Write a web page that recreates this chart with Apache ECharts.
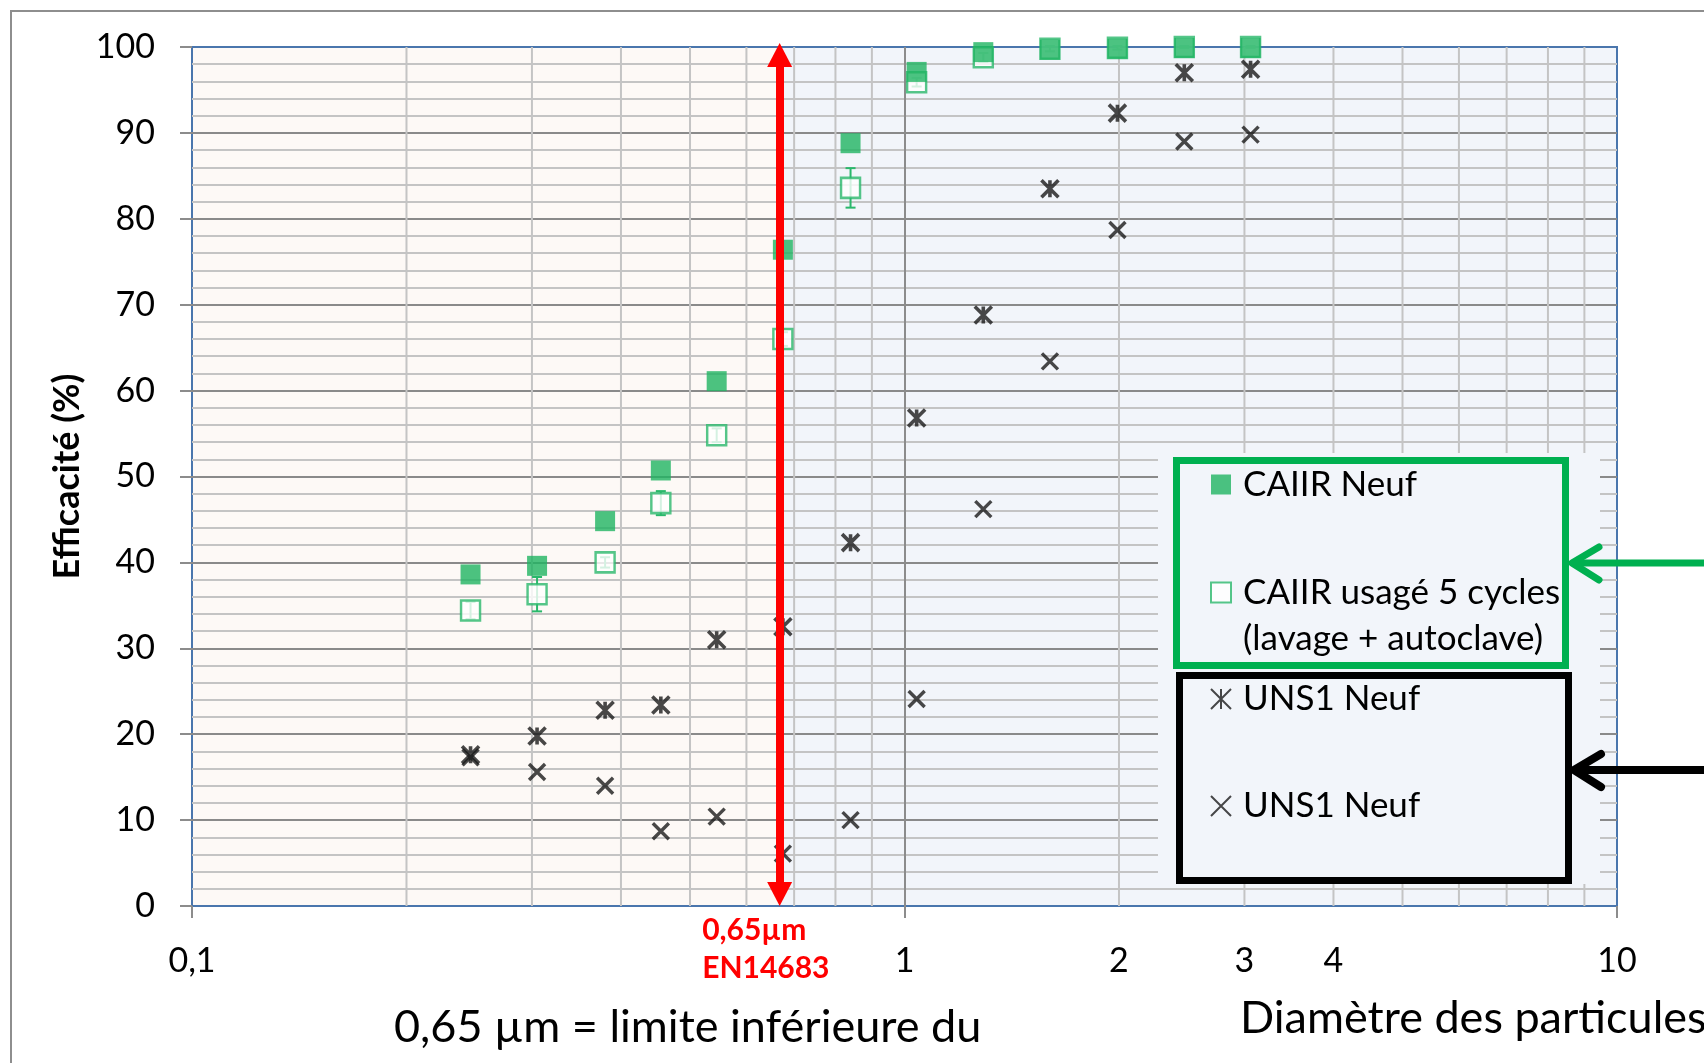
<!DOCTYPE html>
<html><head><meta charset="utf-8">
<script src="https://cdn.jsdelivr.net/npm/echarts@6/dist/echarts.min.js"></script>
<style>html,body{margin:0;padding:0;background:#fff}#c{width:1704px;height:1063px}</style>
</head><body><div id="c"></div>
<script>
// ---- data ----
const diameters   = [0.246, 0.305, 0.38, 0.455, 0.545, 0.675, 0.84, 1.04, 1.29, 1.6, 1.99, 2.47, 3.06];
const caiirNeuf   = [38.6, 39.6, 44.8, 50.7, 61.1, 76.4, 88.8, 97.1, 99.4, 99.7, 99.8, 99.9, 99.9];
const caiirUsage  = [34.4, 36.3, 40.0, 46.9, 54.8, 66.0, 83.6, 95.9, 98.8, 99.8, 99.9, 100, 100];
const caiirUsageErr = [1.0, 2.0, 0.6, 1.4, 0.8, 0.8, 2.3, 0.5, 0.5, 0.3, 0.2, 0.1, 0.1];
const uns1NeufA   = [17.6, 19.8, 22.8, 23.4, 31.0, 32.5, 42.3, 56.8, 68.8, 83.5, 92.3, 97.0, 97.4];
const uns1NeufB   = [17.3, 15.6, 14.0, 8.7, 10.4, 6.1, 10.0, 24.1, 46.2, 63.4, 78.7, 89.0, 89.8];
const seriesNames = ['CAIIR Neuf', 'CAIIR usagé 5 cycles\n(lavage + autoclave)', 'UNS1 Neuf (a)', 'UNS1 Neuf (b)'];
const xMinorGrid  = [0.2, 0.3, 0.4, 0.5, 0.6, 0.7, 0.8, 0.9, 2, 3, 4, 5, 6, 7, 8, 9];
const xExtraLabels = [2, 3, 4];
const limitX = 0.668;             // position of the EN14683 limit line
const limitArrowRange = [1.4, 99.07];
const limitLabel = '0,65µm\nEN14683';
const zones = [[0.1, limitX], [limitX, 10]];
const zoneColors = ['#fdf9f6', '#f2f5fa'];

const FONT = "Lato, 'Open Sans', sans-serif";
const green = '#1fb462', greenLine = '#2ab86b', dark = '#1a1a1a';
const asterisk = 'path://M0,0L10,10M10,0L0,10M5,0L5,10';
const cross = 'path://M0,0L10,10M10,0L0,10';

const pts = ys => diameters.map((d, i) => [d, ys[i]]);

const chart = echarts.init(document.getElementById('c'), null, {renderer: 'canvas'});
const option = {
  animation: false,
  textStyle: {fontFamily: FONT},
  grid: {left: 192, top: 47, right: 87, bottom: 157, show: true, backgroundColor: 'transparent', borderColor: '#4a76ad', borderWidth: 2},
  xAxis: {
    type: 'log', logBase: 10, min: 0.1, max: 10,
    axisLine: {show: false},
    axisTick: {show: true, length: 12, lineStyle: {color: '#8c8c8c', width: 2}},
    axisLabel: {color: '#000', fontSize: 34, margin: 38, fontFamily: FONT, formatter: v => String(v).replace('.', ',')},
    splitLine: {show: true, showMinLine: false, showMaxLine: false, lineStyle: {color: '#8c8c8c', width: 2}}
  },
  yAxis: {
    type: 'value', min: 0, max: 100, interval: 10,
    name: 'Efficacité (%)', nameLocation: 'middle', nameGap: 104,
    nameTextStyle: {color: '#000', fontSize: 36, fontWeight: 'bold', fontFamily: FONT},
    axisLine: {show: false},
    axisTick: {show: true, length: 12, lineStyle: {color: '#8c8c8c', width: 2}},
    axisLabel: {color: '#000', fontSize: 34, margin: 37, fontFamily: FONT},
    splitLine: {show: true, showMinLine: false, showMaxLine: false, lineStyle: {color: '#8a8a8a', width: 2}},
    minorTick: {show: false, splitNumber: 5},
    minorSplitLine: {show: true, lineStyle: {color: '#c4c4c4', width: 2}}
  },
  legend: [
    {
      data: [seriesNames[0], seriesNames[1]],
      // leading empty line keeps the icon level with the first text line
      formatter: n => (n.indexOf('\n') >= 0 ? '\n' + n : n),
      orient: 'vertical', left: 1176.5, top: 460.5,
      itemWidth: 20, itemHeight: 20, itemGap: 16,
      padding: [1, 2.5, 4, 33.5],
      backgroundColor: '#f2f5fa', borderColor: '#00b050', borderWidth: 7,
      textStyle: {color: '#000', fontSize: 35, lineHeight: 46, width: 320, padding: [0, 0, 0, 7], fontFamily: FONT},
      selectedMode: false
    },
    {
      data: [seriesNames[2], seriesNames[3]],
      formatter: n => n.replace(/ \([ab]\)$/, ''),
      orient: 'vertical', left: 1179.5, top: 675.5,
      itemWidth: 20, itemHeight: 20, itemGap: 61,
      padding: [0.5, 5.5, 51.5, 30.5],
      backgroundColor: '#f2f5fa', borderColor: '#000', borderWidth: 7,
      textStyle: {color: '#000', fontSize: 35, lineHeight: 46, width: 320, padding: [0, 0, 0, 7], fontFamily: FONT},
      selectedMode: false
    }
  ],
  graphic: [
    {type: 'rect', z: 3, silent: true, shape: {x: 1158, y: 453, width: 442, height: 431}, style: {fill: '#f2f5fa'}},
    {type: 'rect', z: 10, silent: true, shape: {x: 11, y: 11, width: 1800, height: 1200}, style: {fill: 'none', stroke: '#8e8e8e', lineWidth: 2}},
    {type: 'line', z: 10, silent: true, shape: {x1: 1576, y1: 563, x2: 1720, y2: 563}, style: {stroke: '#00b050', lineWidth: 7}},
    {type: 'polyline', z: 10, silent: true, shape: {points: [[1599, 547], [1572, 563], [1599, 580]]}, style: {stroke: '#00b050', lineWidth: 7, lineCap: 'round', lineJoin: 'round', fill: 'none'}},
    {type: 'line', z: 10, silent: true, shape: {x1: 1578, y1: 770, x2: 1720, y2: 770}, style: {stroke: '#000', lineWidth: 8}},
    {type: 'polyline', z: 10, silent: true, shape: {points: [[1601, 754], [1574, 770], [1601, 787]]}, style: {stroke: '#000', lineWidth: 8, lineCap: 'round', lineJoin: 'round', fill: 'none'}}
  ],
  title: [
    {text: '0,65 µm = limite inférieure du', left: 394, top: 1000, padding: 0, textStyle: {fontSize: 45, fontWeight: 'normal', color: '#000', fontFamily: FONT, lineHeight: 54}},
    {text: 'Diamètre des particules', left: 1240, top: 991, padding: 0, textStyle: {fontSize: 45, fontWeight: 'normal', color: '#000', fontFamily: FONT, lineHeight: 54}}
  ],
  series: [
    { // background zones
      type: 'custom', z: -1, silent: true, clip: false,
      data: zones.map((z, i) => [z[0], z[1], i]),
      encode: {x: [0, 1]},
      renderItem: (params, api) => {
        const p0 = api.coord([api.value(0), 100]);
        const p1 = api.coord([api.value(1), 0]);
        return {type: 'rect', shape: {x: p0[0], y: p0[1], width: p1[0] - p0[0], height: p1[1] - p0[1]}, style: {fill: zoneColors[api.value(2)]}};
      }
    },
    { // minor vertical grid lines + extra tick labels
      type: 'custom', z: 0, silent: true, clip: false,
      data: xMinorGrid.map(v => [v, 0]),
      encode: {x: 0, y: 1},
      renderItem: (params, api) => {
        const v = api.value(0);
        const top = api.coord([v, 100]), bot = api.coord([v, 0]);
        const children = [{type: 'line', shape: {x1: top[0], y1: top[1], x2: bot[0], y2: bot[1]}, style: {stroke: '#c4c4c4', lineWidth: 2}}];
        if (xExtraLabels.indexOf(v) >= 0) {
          children.push({type: 'text', style: {text: String(v), x: bot[0], y: bot[1] + 38, align: 'center', verticalAlign: 'top', font: '34px ' + FONT, fill: '#000'}});
        }
        return {type: 'group', children};
      }
    },
    {
      name: seriesNames[1], type: 'scatter', clip: false, z: 2,
      symbol: 'rect', symbolSize: [19, 20],
      itemStyle: {color: '#ffffff', borderColor: greenLine, borderWidth: 2.5},
      data: pts(caiirUsage)
    },
    { // error bars of the used CAIIR
      type: 'custom', z: 2, silent: true, clip: false,
      data: diameters.map((d, i) => [d, caiirUsage[i] - caiirUsageErr[i], caiirUsage[i] + caiirUsageErr[i]]),
      encode: {x: 0, y: [1, 2]},
      renderItem: (params, api) => {
        const lo = api.coord([api.value(0), api.value(1)]);
        const hi = api.coord([api.value(0), api.value(2)]);
        const s = {stroke: greenLine, lineWidth: 2};
        return {type: 'group', children: [
          {type: 'line', shape: {x1: lo[0], y1: lo[1], x2: hi[0], y2: hi[1]}, style: s},
          {type: 'line', shape: {x1: lo[0] - 5, y1: lo[1], x2: lo[0] + 5, y2: lo[1]}, style: s},
          {type: 'line', shape: {x1: hi[0] - 5, y1: hi[1], x2: hi[0] + 5, y2: hi[1]}, style: s}
        ]};
      }
    },
    {
      name: seriesNames[0], type: 'scatter', clip: false, z: 2,
      symbol: 'rect', symbolSize: 20,
      itemStyle: {color: green},
      data: pts(caiirNeuf)
    },
    {
      name: seriesNames[2], type: 'scatter', clip: false, z: 2,
      symbol: asterisk, symbolSize: 17,
      itemStyle: {color: 'rgba(0,0,0,0)', borderColor: dark, borderWidth: 3.6},
      data: pts(uns1NeufA)
    },
    {
      name: seriesNames[3], type: 'scatter', clip: false, z: 2,
      symbol: cross, symbolSize: 16,
      itemStyle: {color: 'rgba(0,0,0,0)', borderColor: dark, borderWidth: 3.4},
      data: pts(uns1NeufB)
    },
    { // EN14683 limit annotation
      type: 'scatter', data: [], silent: true,
      markLine: {
        silent: true, symbol: ['triangle', 'triangle'], symbolSize: [25, 24],
        lineStyle: {color: '#ff0000', width: 8, type: 'solid'},
        itemStyle: {color: '#ff0000'},
        label: {show: false},
        data: [[{coord: [limitX, limitArrowRange[0]]}, {coord: [limitX, limitArrowRange[1]]}]]
      },
      markPoint: {
        silent: true, symbol: 'rect', symbolSize: 1, itemStyle: {color: 'rgba(0,0,0,0)'},
        data: [{coord: [limitX, 0]}],
        label: {show: true, formatter: limitLabel, position: [-77, 6], align: 'left', verticalAlign: 'top',
                color: '#ff0000', fontWeight: 'bold', fontSize: 30, lineHeight: 38, fontFamily: FONT}
      }
    }
  ]
};
chart.setOption(option);
</script>
</body></html>
